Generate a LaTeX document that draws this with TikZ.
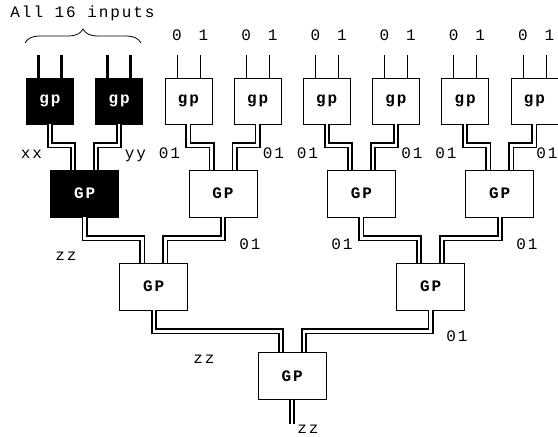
\documentclass[tikz,border=0pt]{standalone}
\usepackage{fontspec}
\setmainfont{Liberation Serif}
\newfontfamily\lblfont[LetterSpace=12]{Liberation Mono}
\usetikzlibrary{decorations.pathreplacing}
\tikzset{
  lbl/.style={inner sep=0pt, anchor=base, font=\lblfont\fontsize{16}{18}\selectfont},
  gpbox/.style={draw, line width=0.8pt, minimum width=47pt, minimum height=46pt, inner sep=0pt,
     font=\lblfont\fontsize{16}{18}\selectfont\bfseries},
  GPbox/.style={draw, line width=0.8pt, minimum width=68pt, minimum height=47pt, inner sep=0pt,
     font=\lblfont\fontsize{16}{18}\selectfont\bfseries},
  blk/.style={fill=black, text=white},
  wire/.style={double, double distance=2.4pt, line width=1.8pt, line join=miter},
  inwire/.style={line width=0.8pt},
  thickin/.style={line width=3pt},
}
\begin{document}
\begin{tikzpicture}[x=1pt, y=-1pt]
\useasboundingbox (0,0) rectangle (558,437);
% level 1
\node[gpbox, blk] (g0) at (50,101) {gp};
\node[gpbox, blk] (g1) at (119.2,101) {gp};
\node[gpbox] (g2) at (188.4,101) {gp};
\node[gpbox] (g3) at (257.6,101) {gp};
\node[gpbox] (g4) at (326.8,101) {gp};
\node[gpbox] (g5) at (396,101) {gp};
\node[gpbox] (g6) at (465.2,101) {gp};
\node[gpbox] (g7) at (534.4,101) {gp};
% level 2
\node[GPbox, blk] (h0) at (84.6,193.5) {GP};
\node[GPbox] (h1) at (223,193.5) {GP};
\node[GPbox] (h2) at (361.4,193.5) {GP};
\node[GPbox] (h3) at (499.8,193.5) {GP};
% level 3
\node[GPbox] (k0) at (153.8,286.5) {GP};
\node[GPbox] (k1) at (430.6,286.5) {GP};
% level 4
\node[GPbox] (m0) at (292.2,376) {GP};

% inputs
\foreach \g in {g0,g1}{
  \draw[thickin] ([xshift=-11.5pt]\g.north) -- ++(0,-23);
  \draw[thickin] ([xshift=11.5pt]\g.north) -- ++(0,-23);
}
\foreach \g in {g2,g3,g4,g5,g6,g7}{
  \draw[inwire] ([xshift=-11.5pt]\g.north) -- ++(0,-23);
  \draw[inwire] ([xshift=11.5pt]\g.north) -- ++(0,-23);
  \node[lbl] (\g zero) at ([xshift=-11.5pt,yshift=37pt]\g.north) {0};
  \node[lbl] (\g one) at ([xshift=15pt,yshift=37pt]\g.north) {1};
}

% wires
\foreach \c/\p/\s in {g0/h0/-1,g1/h0/1,g2/h1/-1,g3/h1/1,g4/h2/-1,g5/h2/1,g6/h3/-1,g7/h3/1,
                      h0/k0/-1,h1/k0/1,h2/k1/-1,h3/k1/1,k0/m0/-1,k1/m0/1}{
  \draw[wire] (\c.south) -- ++(0,21) -| ([xshift=\s*11.5pt]\p.north);
}
\draw[wire] (m0.south) -- ++(0,24) coordinate (out);

% brace
\coordinate (bl) at (25,43);
\coordinate (br) at (141,43);
\draw[line width=0.8pt, decorate, decoration={brace, amplitude=14pt}] (bl) -- (br);
\node[lbl] (title) at (82.5,17) {All 16 inputs};

% labels
\node[lbl] (lxx) at (31.5,158) {xx};
\node[lbl] (lyy) at (135.5,158) {yy};
\node[lbl] (l2) at (169.5,158) {01};
\node[lbl] (l3) at (273.5,158) {01};
\node[lbl] (l4) at (307.5,158) {01};
\node[lbl] (l5) at (412,158) {01};
\node[lbl] (l6) at (446,158) {01};
\node[lbl] (l7) at (547,158) {01};
\node[lbl] (lzz1) at (66,260) {zz};
\node[lbl] (m1) at (250,249) {01};
\node[lbl] (m2) at (342,249) {01};
\node[lbl] (m3) at (527,249) {01};
\node[lbl] (lzz2) at (204,363) {zz};
\node[lbl] (n1) at (457,341) {01};
\node[lbl] (lzz3) at (308,433) {zz};
\end{tikzpicture}
\end{document}
